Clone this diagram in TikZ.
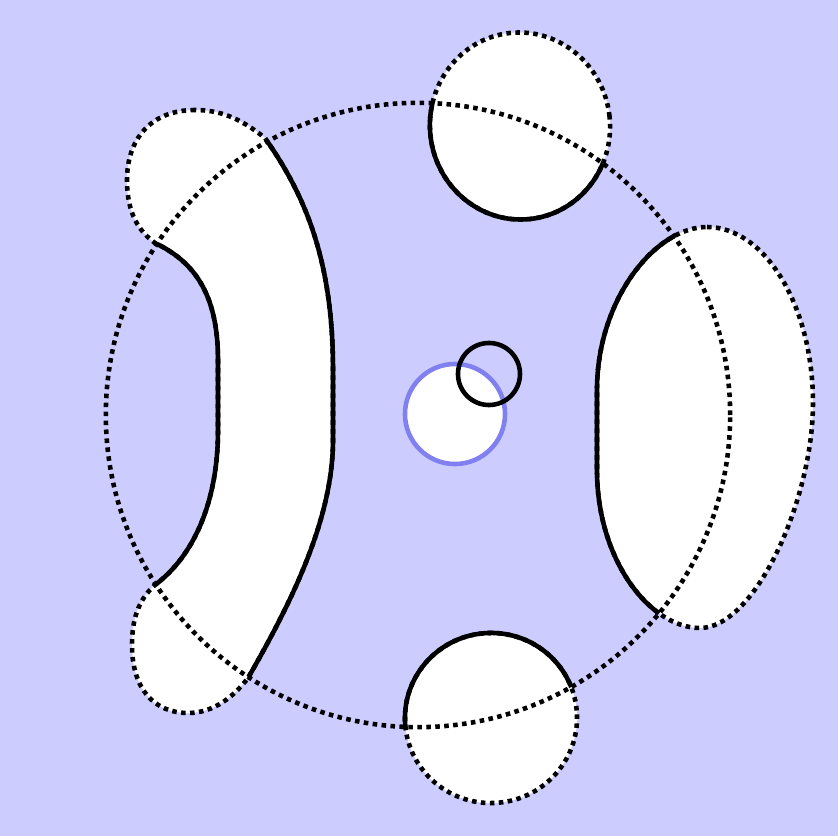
\documentclass[tikz,border=0pt]{standalone}
\definecolor{lilac}{RGB}{204,204,255}
\definecolor{rimblue}{RGB}{128,128,240}

\tikzset{
  dots/.style={line width=1.3pt, dash pattern=on 1.3pt off 1.25pt},
  edge/.style={line width=1.3pt},
  tilttop/.style={rotate around={6:(520,126)}},
  tiltbottom/.style={rotate around={5:(491,718)}},
}

\begin{document}
\begin{tikzpicture}[x=0.01cm,y=-0.01cm]
\fill[lilac] (0,0) rectangle (838,836);

\coordinate (hub) at (418,415);

% lobes
\def\toplobe{(520,126) ellipse[x radius=0.90cm, y radius=0.935cm]}
\def\bottomlobe{(491,718) ellipse[x radius=0.86cm, y radius=0.85cm]}
\def\rightlobe{(707,227) .. controls (765,227) and (813,306) .. (813,403)
  .. controls (813,500) and (755,628) .. (700,628)
  .. controls (650,628) and (597,560) .. (597,470)
  -- (597,390)
  .. controls (597,300) and (655,227) .. cycle}
\def\leftlobe{(195,110) .. controls (150,110) and (127,140) .. (127,180)
  .. controls (127,215) and (140,232) .. (155,243)
  .. controls (195,262) and (218,295) .. (218,360)
  -- (218,430)
  .. controls (218,500) and (195,555) .. (155,585)
  .. controls (138,600) and (132,620) .. (132,645)
  .. controls (132,690) and (155,713) .. (188,713)
  .. controls (215,713) and (235,695) .. (248,678)
  .. controls (290,605) and (333,520) .. (333,440)
  -- (333,370)
  .. controls (333,260) and (305,195) .. (265,138)
  .. controls (240,118) and (220,110) .. cycle}

\filldraw[fill=white, dots, tilttop] \toplobe;
\filldraw[fill=white, dots] \rightlobe;
\filldraw[fill=white, dots, tiltbottom] \bottomlobe;
\filldraw[fill=white, dots] \leftlobe;

\begin{scope}
\clip (hub) circle[radius=3.12cm];
\draw[edge, tilttop] \toplobe;
\draw[edge] \rightlobe;
\draw[edge, tiltbottom] \bottomlobe;
\draw[edge] \leftlobe;
\end{scope}

\draw[dots] (hub) circle[radius=3.12cm];

% middle
\filldraw[fill=white, draw=rimblue, edge] (455,414) circle[radius=0.5cm];
\draw[edge] (489,374) circle[radius=0.31cm];

\end{tikzpicture}
\end{document}
